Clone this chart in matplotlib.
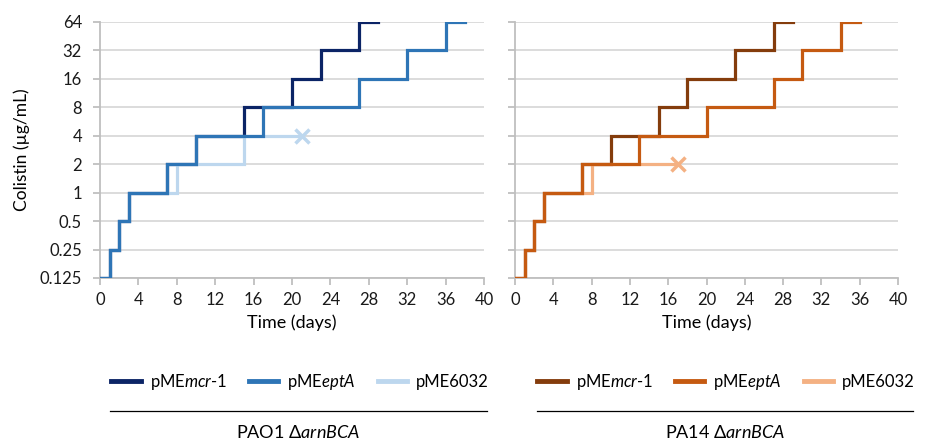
#!/usr/bin/env python3
"""Colistin adaptation step plots for PAO1 and PA14 arnBCA mutants."""

import matplotlib

matplotlib.use("Agg")
import matplotlib.pyplot as plt
from matplotlib.lines import Line2D
from matplotlib.ticker import FixedLocator, FixedFormatter, NullLocator

plt.rcParams["font.family"] = ["Lato", "DejaVu Sans"]
plt.rcParams["mathtext.fontset"] = "custom"
plt.rcParams["mathtext.it"] = "Lato:italic"
plt.rcParams["mathtext.rm"] = "Lato"

MIC_LEVELS = [0.125, 0.25, 0.5, 1, 2, 4, 8, 16, 32, 64]
MIC_LABELS = ["0.125", "0.25", "0.5", "1", "2", "4", "8", "16", "32", "64"]
X_TICKS = [0, 4, 8, 12, 16, 20, 24, 28, 32, 36, 40]

# PAO1 ΔarnBCA
pao1_mcr_days = [0, 1, 2, 3, 7, 10, 15, 20, 23, 27, 29]
pao1_mcr_mic = [0.125, 0.25, 0.5, 1, 2, 4, 8, 16, 32, 64, 64]
pao1_ept_days = [0, 1, 2, 3, 7, 10, 17, 27, 32, 36, 38]
pao1_ept_mic = [0.125, 0.25, 0.5, 1, 2, 4, 8, 16, 32, 64, 64]
pao1_ctl_days = [0, 1, 2, 3, 8, 15, 21]
pao1_ctl_mic = [0.125, 0.25, 0.5, 1, 2, 4, 4]

# PA14 ΔarnBCA
pa14_mcr_days = [0, 1, 2, 3, 7, 10, 15, 18, 23, 27, 29]
pa14_mcr_mic = [0.125, 0.25, 0.5, 1, 2, 4, 8, 16, 32, 64, 64]
pa14_ept_days = [0, 1, 2, 3, 7, 13, 20, 27, 30, 34, 36]
pa14_ept_mic = [0.125, 0.25, 0.5, 1, 2, 4, 8, 16, 32, 64, 64]
pa14_ctl_days = [0, 1, 2, 3, 8, 17]
pa14_ctl_mic = [0.125, 0.25, 0.5, 1, 2, 2]

SERIES_NAMES = [r"pME$\mathit{mcr}$-$\mathit{1}$", r"pME$\mathit{eptA}$", "pME6032"]
BLUES = ["#0b2466", "#2e75b6", "#bdd7ee"]
ORANGES = ["#843c0c", "#c55a11", "#f4b183"]
GROUP_LABELS = [r"PAO1 Δ$\mathit{arnBCA}$", r"PA14 Δ$\mathit{arnBCA}$"]

SPINE = "#bfbfbf"
GRID = "#d9d9d9"
LW = 2.3
TICK_FS = 12
LABEL_FS = 13
LEGEND_FS = 12


def style_axes(ax, show_labels):
    ax.set_yscale("log", base=2)
    ax.set_ylim(0.125, 64)
    ax.set_xlim(0, 40)
    ax.yaxis.set_major_locator(FixedLocator(MIC_LEVELS))
    ax.yaxis.set_minor_locator(NullLocator())
    if show_labels:
        ax.yaxis.set_major_formatter(FixedFormatter(MIC_LABELS))
    else:
        ax.set_yticklabels([])
    ax.set_xticks(X_TICKS)
    ax.grid(axis="y", color=GRID, linewidth=1.3)
    ax.set_axisbelow(True)
    for side in ["top", "right"]:
        ax.spines[side].set_visible(False)
    for side in ["left", "bottom"]:
        ax.spines[side].set_color(SPINE)
        ax.spines[side].set_linewidth(1.3)
    ax.tick_params(axis="both", color=SPINE, width=1.3, length=5, labelsize=TICK_FS,
                   labelcolor="#1a1a1a")
    ax.tick_params(axis="y", pad=8)
    ax.tick_params(axis="x", pad=5)
    ax.set_xlabel("Time (days)", fontsize=LABEL_FS, labelpad=5)


def plot_panel(ax, series, colors, end_point):
    # draw order: mcr, control, eptA on top
    zorders = [3, 5, 4]
    for (days, mic), color, z in zip(series, colors, zorders):
        ax.step(days, mic, where="post", color=color, linewidth=LW,
                solid_joinstyle="miter", zorder=z)
    ax.plot([end_point[0]], [end_point[1]], marker="x", color=colors[2],
            markersize=10, markeredgewidth=2.5, linestyle="none", zorder=5)


def main():
    fig = plt.figure(figsize=(9.26, 4.43), dpi=100)
    ax1 = fig.add_axes([100 / 926, 1 - 278 / 443, 384 / 926, 256 / 443])
    ax2 = fig.add_axes([515 / 926, 1 - 278 / 443, 383 / 926, 256 / 443])

    plot_panel(ax1,
               [(pao1_mcr_days, pao1_mcr_mic), (pao1_ept_days, pao1_ept_mic),
                (pao1_ctl_days, pao1_ctl_mic)],
               BLUES, (pao1_ctl_days[-1], pao1_ctl_mic[-1]))
    plot_panel(ax2,
               [(pa14_mcr_days, pa14_mcr_mic), (pa14_ept_days, pa14_ept_mic),
                (pa14_ctl_days, pa14_ctl_mic)],
               ORANGES, (pa14_ctl_days[-1], pa14_ctl_mic[-1]))

    style_axes(ax1, True)
    style_axes(ax2, False)
    ax1.set_ylabel("Colistin (µg/mL)", fontsize=LABEL_FS - 0.5, labelpad=7)

    # legends, separator lines and group labels
    for cx, x0, x1, colors, group in [
        (300 / 926, 110 / 926, 487 / 926, BLUES, GROUP_LABELS[0]),
        (726 / 926, 537 / 926, 913 / 926, ORANGES, GROUP_LABELS[1]),
    ]:
        handles = [Line2D([], [], color=c, linewidth=3.5) for c in colors]
        fig.legend(handles, SERIES_NAMES, loc="center", bbox_to_anchor=(cx, 1 - 382 / 443),
                   ncol=3, frameon=False, fontsize=LEGEND_FS, handlelength=1.75,
                   handletextpad=0.55, columnspacing=1.3, borderpad=0, borderaxespad=0)
        fig.add_artist(Line2D([x0, x1], [1 - 411 / 443, 1 - 411 / 443], color="#000000",
                              linewidth=0.9, transform=fig.transFigure))
        fig.text((x0 + x1) / 2, 1 - 432 / 443, group, ha="center", va="center",
                 fontsize=LABEL_FS)

    fig.savefig("out.png", dpi=100, facecolor="white")
    plt.close(fig)


if __name__ == "__main__":
    main()
